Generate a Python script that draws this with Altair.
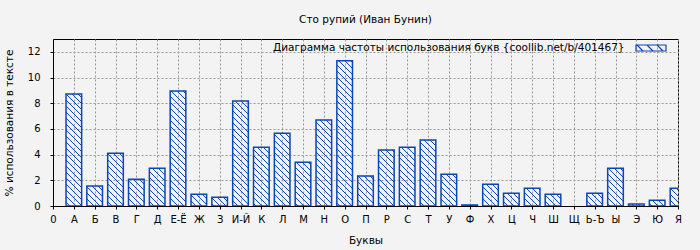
import math
import json
import altair as alt
import pandas as pd

letters = ["А", "Б", "В", "Г", "Д", "Е-Ё", "Ж", "З", "И-Й", "К", "Л", "М", "Н", "О", "П",
           "Р", "С", "Т", "У", "Ф", "Х", "Ц", "Ч", "Ш", "Щ", "Ь-Ъ", "Ы", "Э", "Ю", "Я"]
values = [8.72, 1.56, 4.11, 2.08, 2.94, 8.95, 0.91, 0.68, 8.17, 4.58, 5.67, 3.41, 6.69, 11.30, 2.34,
          4.35, 4.58, 5.13, 2.47, 0.08, 1.69, 0.99, 1.38, 0.91, 0.0, 0.99, 2.94, 0.16, 0.44, 1.38]
tick_labels = ["0"] + letters
y_ticks = [0, 2, 4, 6, 8, 10, 12]

TITLE = "Сто рупий (Иван Бунин)"
SERIES = "Диаграмма частоты использования букв {coollib.net/b/401467}"
Y_TITLE = "% использования в тексте"
X_TITLE = "Буквы"

BLUE = "#0a46b4"
FONT = "DejaVu Sans"
W, H = 625, 167
X_MAX, Y_MAX = 30, 13
HALF = 0.375
STEP = 6  # hatch spacing in px

bars = pd.DataFrame({"pos": list(range(1, len(letters) + 1)), "letter": letters,
                     "value": values, "series": SERIES})
bars = bars[bars.value > 0].reset_index(drop=True)
bars["x0"] = bars.pos - HALF
bars["x1"] = bars.pos + HALF
bars["zero"] = 0.0

# hatch segments derived from bar data (converted back to data units)
segs = []
for pos, v in zip(bars.pos, bars.value):
    Lp = (pos - HALF) / X_MAX * W
    Rp = (pos + HALF) / X_MAX * W
    Tp = H * (1 - v / Y_MAX)
    Bp = H
    k = math.ceil((Tp - Rp) / STEP) * STEP
    while k <= Bp - Lp:
        a = max(Lp, Tp - k)
        b = min(Rp, Bp - k)
        if b - a > 0.4:
            segs.append({"hx": a / W * X_MAX, "hx2": b / W * X_MAX,
                         "hy": Y_MAX * (1 - (a + k) / H), "hy2": Y_MAX * (1 - (b + k) / H)})
        k += STEP
hatch = pd.DataFrame(segs)

xscale = alt.Scale(domain=[0, X_MAX], nice=False, zero=False)
yscale = alt.Scale(domain=[0, Y_MAX], nice=False, zero=False)

label_expr = json.dumps(tick_labels, ensure_ascii=False) + "[datum.value]"

x_axis = alt.Axis(
    values=list(range(X_MAX + 1)), labelExpr=label_expr, title=X_TITLE,
    labelOverlap=False, labelFlush=False, labelBound=False,
    grid=True, gridDash=[2, 2], gridColor="#999999", gridOpacity=1,
    tickSize=3, labelPadding=5, titleY=37, titleBaseline="alphabetic")
y_axis = alt.Axis(
    values=y_ticks, title=Y_TITLE, labelOverlap=False, labelFlush=False, labelBound=False,
    grid=True, gridDash=[2, 2], gridColor="#999999",
    gridOpacity=1, tickSize=3, labelPadding=10, titleX=-41, titleY=H / 2,
    titleAngle=-90, titleBaseline="alphabetic", titleAlign="center")

swatch = ("M-1,-0.2H1V0.2H-1Z"
          "M-0.933,-0.2L-0.533,0.2"
          "M-0.267,-0.2L0.133,0.2"
          "M0.4,-0.2L0.8,0.2")

bar_layer = alt.Chart(bars).mark_rect(filled=False, strokeWidth=1.5, clip=True).encode(
    x=alt.X("x0:Q", scale=xscale, axis=x_axis),
    x2="x1:Q",
    y=alt.Y("value:Q", scale=yscale, axis=y_axis),
    y2="zero:Q",
    stroke=alt.Stroke("series:N", scale=alt.Scale(range=[BLUE]), legend=alt.Legend(
        title=SERIES, titleOrient="left", labelExpr="''", symbolType=swatch, symbolSize=900,
        symbolFillColor="transparent", symbolStrokeWidth=1.2, orient="none",
        legendX=220, legendY=-7, titlePadding=10, padding=0, labelOffset=0, titleLimit=600,
        titleFontWeight="normal", titleFontSize=10.5, titleFont=FONT, titleColor="black",
        titleBaseline="top")),
)

hatch_layer = alt.Chart(hatch).mark_rule(color=BLUE, strokeWidth=1, clip=True).encode(
    x=alt.X("hx:Q", scale=xscale, axis=x_axis),
    x2="hx2:Q",
    y=alt.Y("hy:Q", scale=yscale, axis=y_axis),
    y2="hy2:Q",
)

chart = alt.layer(hatch_layer, bar_layer).properties(
    width=W, height=H,
    title=alt.TitleParams(TITLE, fontSize=10.5, font=FONT, fontWeight="normal", offset=7,
                          anchor="middle", color="black"),
    autosize=alt.AutoSizeParams(type="none"),
    padding={"left": 53, "top": 39, "right": 22, "bottom": 44},
    background="#f3f3f3",
).configure_view(
    stroke="black", strokeWidth=1, fill="#f3f3f3"
).configure_axis(
    labelFont=FONT, labelFontSize=10, labelColor="black",
    titleFont=FONT, titleFontSize=10.5, titleColor="black", titleFontWeight="normal",
    domainColor="black", tickColor="black", domainWidth=1, tickWidth=1,
)

chart.save("out.html", embed_options={"renderer": "svg", "actions": False})
